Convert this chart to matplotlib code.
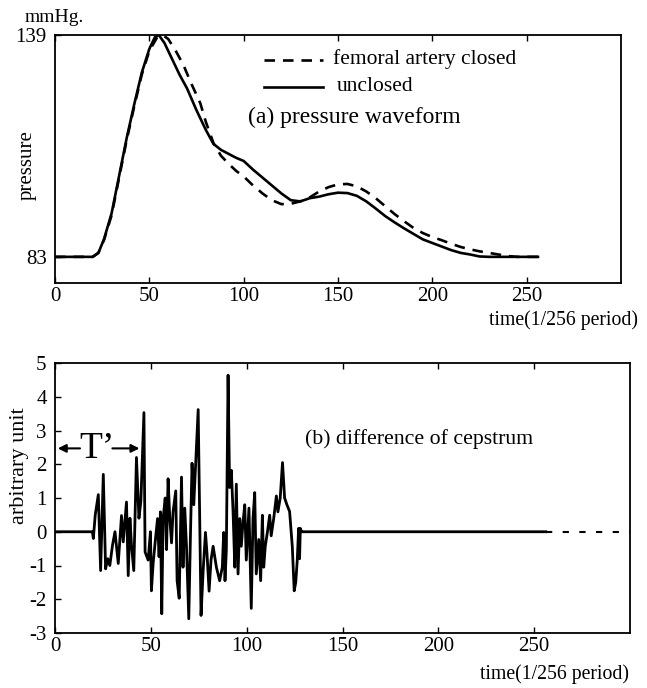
import matplotlib
matplotlib.use("Agg")
import matplotlib.pyplot as plt

plt.rcParams['font.family'] = ['Liberation Serif', 'DejaVu Serif']
plt.rcParams['axes.unicode_minus'] = False

# ---- (a) pressure waveform data (time in 1/256 period, pressure mmHg) ----
t_unclosed = [0, 20, 23, 26, 30, 34, 38, 42, 46, 50, 53, 55, 58, 62, 66, 70, 75, 80, 84, 88,
              92, 96, 100, 105, 110, 115, 120, 125, 130, 135, 140, 145, 150, 155, 160, 165,
              170, 175, 180, 185, 190, 195, 200, 205, 210, 215, 220, 225, 230, 240, 256]
p_unclosed = [83, 83, 84, 87.5, 94, 103.5, 113, 121.5, 129.5, 135.5, 138.5, 139, 137, 133, 129,
              125.5, 120, 115, 111.5, 110, 109, 108, 107.2, 105, 103, 101, 99, 97.3, 97, 97.8,
              98.2, 98.8, 99.2, 99.1, 98.4, 97, 95.2, 93.3, 91.7, 90.2, 88.8, 87.4, 86.5, 85.6,
              84.7, 84, 83.6, 83.1, 83, 83, 83]

t_closed = [0, 20, 23, 26, 30, 34, 38, 42, 46, 50, 54, 57, 60, 64, 68, 72, 77, 80, 84, 88,
            92, 96, 100, 105, 110, 115, 120, 125, 130, 135, 140, 145, 150, 155, 160, 165,
            170, 175, 180, 185, 190, 195, 200, 205, 210, 215, 220, 225, 230, 235, 240, 245, 256]
p_closed = [83, 83, 84, 87.3, 93.5, 103, 112.5, 121, 129, 135, 138.3, 139, 138, 135, 131.5,
            127, 121.8, 117, 111.7, 108.5, 106.5, 104.7, 103.3, 101, 99, 97.3, 96.3, 96.4, 97,
            98, 99.5, 100.6, 101.3, 101.4, 100.8, 99.5, 97.8, 95.8, 93.8, 92, 90.3, 89, 88,
            87.2, 86.3, 85.5, 84.9, 84.4, 84, 83.6, 83.2, 83, 83]

# ---- (b) difference of cepstrum ----
t_diff = [0, 19.5, 20, 21, 22.6, 23.8, 25.2, 26.4, 27.5, 28.6, 30, 31.3, 33, 34.7, 35.6, 37.3,
          38.2, 39.1, 39.9, 41.1, 42.5, 43.8, 44.8, 46.4, 47, 48.6, 49.8, 50.3, 51.2, 52.4,
          53.5, 54.3, 55, 55.7, 56.4, 57.5, 58.2, 59, 59.9, 60.8, 61.6, 63, 63.7, 64.8, 66,
          66.8, 67.7, 68.6, 69.8, 70.7, 71.5, 72.4, 73.4, 74.7, 75.5, 76.2, 77.3, 78.5, 79.3,
          80.4, 81.4, 82.5, 84.2, 85.9, 87.3, 88, 88.7, 89.4, 90.3, 91.1, 92, 92.9, 93.8,
          94.6, 95.5, 96.4, 97.2, 98.1, 99, 99.8, 101.2, 102.4, 103.3, 104.2, 105, 106.3,
          107.3, 108.2, 108.9, 109.7, 110.8, 112, 112.8, 114.1, 115.5, 116.3, 117.5, 118.7,
          119.8, 121, 122.4, 123.8, 124.8, 125.6, 126.4, 127.1, 127.6, 128, 128.5, 129, 256]
v_diff = [0, 0, -0.2, 0.5, 1.1, -1.15, 1.7, -1.1, -0.8, -1.0, -0.4, 0.0, -0.94, 0.48, -0.3,
          0.88, -1.3, 0.4, -0.4, -1.15, 2.2, 0.4, 0.9, 3.53, -0.6, -0.84, 0.0, -1.75, -0.94,
          -0.23, 0.39, -0.74, 0.59, -2.43, 0.39, 1.0, -0.53, 1.57, 0.39, -0.33, 0.59, 1.21,
          -1.45, -1.97, 1.62, -1.05, 0.7, -0.43, -2.58, -0.02, 2.03, 0.8, 2.03, 3.62, 0.39,
          -2.48, -1.15, -0.02, -0.64, -1.76, -0.84, -0.43, -1.05, -1.45, -1.05, -0.02, -1.45,
          -0.53, 4.64, 1.31, 1.82, 0.59, -1.05, 1.41, -1.25, 0.39, -0.43, 0.29, 0.8, -0.84,
          0.7, -2.27, 0.39, 1.16, -1.25, -0.23, -1.45, 0.49, -1.05, -0.43, -0.02, 0.49, -0.12,
          0.39, 1.06, 0.59, 1.0, 2.05, 1.0, 0.8, 0.6, -0.43, -1.75, -1.5, -0.84, 0.1, -0.8,
          0.1, 0.0, 0.0, 0.0]
t_tail = [256, 300]
v_tail = [0, 0]

xticks = [0, 50, 100, 150, 200, 250]

fig = plt.figure(figsize=(6.47, 6.88), dpi=100)
W, H = 647.0, 688.0

# ---------- top panel ----------
ax1 = fig.add_axes([55 / W, 1 - 283 / H, (621 - 55) / W, (283 - 35) / H])
ax1.plot(t_closed, p_closed, color='black', lw=1.9, ls=(0, (4, 3)))
ax1.plot(t_unclosed, p_unclosed, color='black', lw=1.9)
ax1.set_xlim(0, 300)
ax1.set_ylim(76.4, 139)
ax1.set_xticks(xticks)
ax1.set_yticks([83, 139])
ax1.tick_params(direction='in', length=4, width=1, top=True)
ax1.tick_params(axis='x', labelsize=15, pad=3)
ax1.tick_params(axis='y', labelsize=15, pad=6)
for s in ax1.spines.values():
    s.set_linewidth(1.3)

# legend (drawn manually, like the original)
ax1.plot([111, 142], [132.7, 132.7], color='black', lw=1.9, ls=(0, (4, 3)))
ax1.plot([111, 142], [125.9, 125.9], color='black', lw=1.9)
ax1.text(147.3, 132.9, 'femoral artery closed', fontsize=15.5, va='center', ha='left')
ax1.text(149.4, 126.1, 'unclosed', fontsize=15.5, va='center', ha='left')
ax1.text(102.3, 118.1, '(a) pressure waveform', fontsize=17, va='center', ha='left')

fig.text(25 / W, 1 - 18 / H, 'mmHg.', fontsize=14, va='center', ha='left')
fig.text(27 / W, 1 - 165 / H, 'pressure', fontsize=15, va='center', ha='center', rotation=90)
fig.text(638 / W, 1 - 320 / H, 'time(1/256 period)', fontsize=14.2, va='center', ha='right')

# ---------- bottom panel ----------
ax2 = fig.add_axes([55 / W, 1 - 633 / H, (630 - 55) / W, (633 - 363) / H])
ax2.plot(t_diff, v_diff, color='black', lw=2.0)
ax2.plot(t_tail, v_tail, color='black', lw=1.5, ls=(0, (3, 5)))
ax2.set_xlim(0, 300)
ax2.set_ylim(-3, 5)
ax2.set_xticks(xticks)
ax2.set_yticks(range(-3, 6))
ax2.tick_params(direction='in', length=4, width=1, top=True)
ax2.tick_params(axis='x', labelsize=15, pad=3)
ax2.tick_params(axis='y', labelsize=15, pad=6)
for s in ax2.spines.values():
    s.set_linewidth(1.3)

ax2.text(130.4, 2.74, '(b) difference of cepstrum', fontsize=15.7, va='center', ha='left')

# T' annotation
ax2.annotate('', xy=(0, 2.47), xytext=(14.5, 2.47),
             arrowprops=dict(arrowstyle='-|>', color='black', lw=1.5, mutation_scale=12))
ax2.annotate('', xy=(45.5, 2.47), xytext=(28.5, 2.47),
             arrowprops=dict(arrowstyle='-|>', color='black', lw=1.5, mutation_scale=12))
ax2.text(22, 2.47, 'T\u2019', fontsize=27, va='center', ha='center')

fig.text(20 / W, 1 - 466 / H, 'arbitrary unit', fontsize=16, va='center', ha='center', rotation=90)
fig.text(629 / W, 1 - 674 / H, 'time(1/256 period)', fontsize=14.2, va='center', ha='right')

fig.savefig('out.png', dpi=100)
